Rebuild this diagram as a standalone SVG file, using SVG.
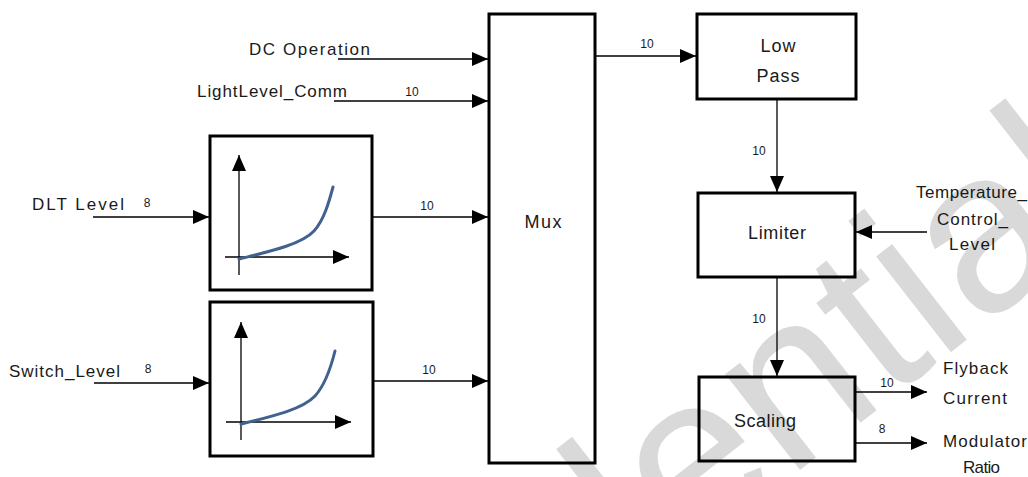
<svg xmlns="http://www.w3.org/2000/svg" width="1028" height="477" viewBox="0 0 1028 477">
<defs>
<marker id="ah" viewBox="0 0 16 14" refX="16" refY="7" markerWidth="16" markerHeight="14" markerUnits="userSpaceOnUse" orient="auto">
<path d="M0,0 L16,7 L0,14 Z" fill="#000"/>
</marker>
<style>
.box{fill:#fff;stroke:#000;stroke-width:3}
.ln{fill:none;stroke:#000;stroke-width:1.3;marker-end:url(#ah)}
.ax{fill:none;stroke:#000;stroke-width:1.3;marker-end:url(#ah)}
.cv{fill:none;stroke:#41618f;stroke-width:3;stroke-linecap:round}
.lb{font-family:"Liberation Sans",Arial,sans-serif;font-size:17px;fill:#1a1a1a}
.rb{font-family:"Liberation Sans",Arial,sans-serif;font-size:18px;fill:#1a1a1a}
.nm{font-family:"Liberation Sans",Arial,sans-serif;font-size:12px;fill:#1a1a1a}
.wm{font-family:"Liberation Sans",Arial,sans-serif;font-size:230px;fill:#000;fill-opacity:0.15}
</style>
</defs>
<rect width="1028" height="477" fill="#fff"/>

<g id="connectors">
<line class="ln" x1="338" y1="59" x2="488" y2="59"/>
<line class="ln" x1="334" y1="101" x2="488" y2="101"/>
<line class="ln" x1="93" y1="217" x2="209" y2="217"/>
<line class="ln" x1="372" y1="217" x2="488" y2="217"/>
<line class="ln" x1="94" y1="383" x2="209" y2="383"/>
<line class="ln" x1="373" y1="381" x2="488" y2="381"/>
<line class="ln" x1="595" y1="56" x2="696" y2="56"/>
<line class="ln" x1="777" y1="99" x2="777" y2="192"/>
<line class="ln" x1="777" y1="277" x2="777" y2="376"/>
<line class="ln" x1="927" y1="232" x2="856" y2="232"/>
<line class="ln" x1="855" y1="392" x2="927" y2="392"/>
<line class="ln" x1="855" y1="443" x2="927" y2="443"/>
<text class="nm" x="412" y="96" text-anchor="middle">10</text>
<text class="nm" x="147" y="207" text-anchor="middle">8</text>
<text class="nm" x="427" y="210" text-anchor="middle">10</text>
<text class="nm" x="148" y="373" text-anchor="middle">8</text>
<text class="nm" x="429" y="374" text-anchor="middle">10</text>
<text class="nm" x="647" y="48" text-anchor="middle">10</text>
<text class="nm" x="759" y="155" text-anchor="middle">10</text>
<text class="nm" x="759" y="323" text-anchor="middle">10</text>
<text class="nm" x="887" y="387" text-anchor="middle">10</text>
<text class="nm" x="882" y="433" text-anchor="middle">8</text>
</g>

<g id="input-labels">
<text class="lb" x="249" y="55" textLength="121" lengthAdjust="spacing">DC  Operation</text>
<text class="lb" x="197" y="97" textLength="150" lengthAdjust="spacing">LightLevel_Comm</text>
<text class="lb" x="32" y="210" textLength="92" lengthAdjust="spacing">DLT  Level</text>
<text class="lb" x="9" y="377" textLength="111" lengthAdjust="spacing">Switch_Level</text>
</g>

<g id="curve1">
<rect class="box" x="210" y="136" width="162" height="154"/>
<line class="ax" x1="239" y1="275" x2="239" y2="155"/>
<line class="ax" x1="225" y1="257" x2="349" y2="257"/>
<path class="cv" d="M239,259 C272,251 302,244 314,231 C324,220 329,202 333,187"/>
</g>

<g id="curve2">
<rect class="box" x="210" y="302" width="163" height="154"/>
<line class="ax" x1="241" y1="440" x2="241" y2="322"/>
<line class="ax" x1="226" y1="422" x2="351" y2="422"/>
<path class="cv" d="M241,424 C274,416 303,409 315,396 C325,385 331,367 335,351"/>
</g>

<g id="mux">
<rect class="box" x="489" y="14" width="106" height="449"/>
<text class="rb" x="543" y="228" text-anchor="middle" textLength="37" lengthAdjust="spacing">Mux</text>
</g>

<g id="lowpass">
<rect class="box" x="697" y="14" width="159" height="85"/>
<text class="rb" x="778" y="52" text-anchor="middle" textLength="35" lengthAdjust="spacing">Low</text>
<text class="rb" x="778" y="82" text-anchor="middle" textLength="43" lengthAdjust="spacing">Pass</text>
</g>

<g id="limiter">
<rect class="box" x="698" y="193" width="157" height="84"/>
<text class="rb" x="777" y="239" text-anchor="middle" textLength="58" lengthAdjust="spacing">Limiter</text>
</g>

<g id="scaling">
<rect class="box" x="699" y="377" width="156" height="84"/>
<text class="rb" x="734" y="427" textLength="62" lengthAdjust="spacing">Scaling</text>
</g>

<g id="temp-label">
<text class="lb" x="916" y="198" textLength="111" lengthAdjust="spacing">Temperature_</text>
<text class="lb" x="937" y="225" textLength="71" lengthAdjust="spacing">Control_</text>
<text class="lb" x="949" y="250" textLength="46" lengthAdjust="spacing">Level</text>
</g>

<g id="outputs">
<text class="lb" x="943" y="374" textLength="65" lengthAdjust="spacing">Flyback</text>
<text class="lb" x="943" y="404" textLength="64" lengthAdjust="spacing">Current</text>
<text class="lb" x="943" y="447" textLength="84" lengthAdjust="spacing">Modulator</text>
<text class="lb" x="963" y="473" textLength="37" lengthAdjust="spacing">Ratio</text>
</g>

<g id="watermark">
<text class="wm" x="0" y="0" text-anchor="end" transform="translate(1120,220) rotate(-38)">Confidential</text>
</g>
</svg>
